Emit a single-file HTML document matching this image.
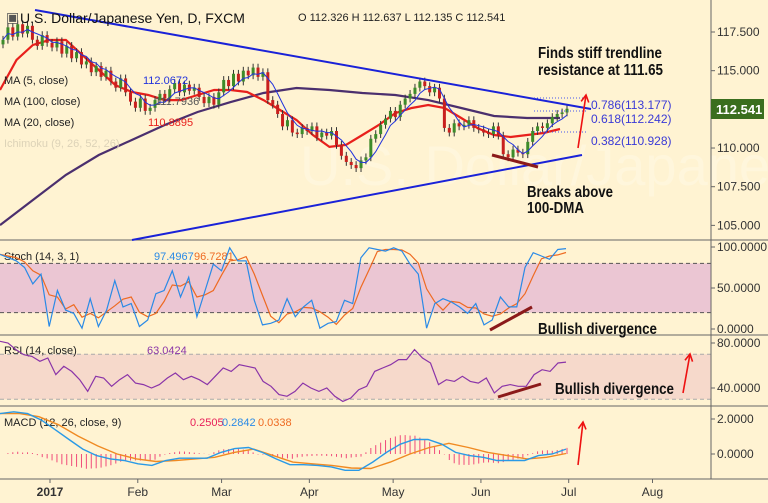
<!DOCTYPE html>
<html><head><meta charset="utf-8"><style>
body{margin:0;background:#fff3d2;}
svg{display:block;font-family:"Liberation Sans",sans-serif;}
</style></head><body>
<svg id="c" width="768" height="503" viewBox="0 0 768 503">
<rect x="0" y="0" width="768" height="503" fill="#fff3d2"/>
</svg>
<script>
const closes=[117.0,117.8,117.2,118.0,117.4,117.9,117.0,116.6,117.3,116.8,
116.5,116.9,116.1,116.6,115.8,116.2,115.4,115.6,114.9,115.3,114.6,115.0,
114.3,113.9,114.5,113.6,113.0,112.6,113.2,112.4,112.6,113.1,113.5,113.2,
113.8,114.2,113.6,114.1,113.7,113.9,113.3,112.9,113.3,112.8,113.6,114.4,
114.0,114.8,114.3,115.0,114.7,115.2,114.6,114.9,113.1,112.8,112.2,111.4,
111.8,111.0,110.9,111.3,111.1,111.4,110.7,111.0,110.8,111.1,110.2,109.5,
109.1,108.9,108.7,109.2,109.4,110.6,110.9,111.5,111.9,112.4,112.0,112.8,
113.2,113.5,113.9,114.3,114.0,113.6,113.9,113.2,111.3,111.0,111.6,111.4,
111.5,111.8,111.3,111.2,111.0,110.9,111.4,110.8,109.6,109.4,109.9,109.7,
109.6,110.4,111.1,111.4,111.3,111.6,112.0,112.2,112.3,112.54];
const ma20=[113.75,115.69,116.66,116.98,116.98,116.01,115.04,114.07,113.62,113.43,113.1,113.1,113.43,113.75,113.75,113.62,113.1,112.46,111.81,110.84,110.07,110.2,110.84,111.49,112.26,112.59,112.78,112.59,111.94,111.29,110.84,110.71,110.84,110.97,111.23];
const ma100=[105.02,106.64,108.26,109.55,110.52,111.49,112.33,112.97,113.56,113.88,113.75,113.56,113.43,113.1,112.59,112.07,111.94,111.94];
const stochK=[91,87,83,75,55,67,3,47,23,19,1,37,3,23,59,27,31,3,11,43,47,71,39,63,15,47,79,71,99,83,83,35,5,7,11,37,15,27,35,1,7,9,35,31,87,99,97,95,99,95,79,67,1,31,37,33,27,19,31,5,11,39,27,27,75,93,89,85,97,98];
const rsi=[81.5,80,74.1,69.6,68.1,63.7,66.7,51.9,59.3,54.8,47.4,37.0,50.4,48.9,41.5,47.4,51.9,44.4,43.0,40.0,43.0,48.9,53.3,47.4,50.4,47.4,43.0,50.4,57.8,54.8,60.7,59.3,57.8,45.9,41.5,34.1,32.6,37.0,44.4,40.0,37.0,40.0,32.6,28.1,31.1,38.5,41.5,54.8,57.8,60.7,65.2,65.2,74.1,66.7,62.2,43.0,47.4,45.9,50.4,45.9,44.4,48.9,35.6,41.5,43.0,41.5,41.5,51.9,56.3,54.8,62.2,63.0];
const macd=[2.31,2.41,2.31,1.94,1.39,0.83,0.28,-0.09,-0.28,-0.37,-0.56,-0.65,-0.37,-0.24,-0.24,-0.24,0.09,0.31,0.37,0.09,-0.28,-0.61,-0.61,-0.65,-0.74,-0.93,-0.93,-0.46,0.09,0.56,0.83,0.83,0.56,0.09,-0.09,-0.19,-0.37,-0.37,-0.37,-0.09,0,0.28];
const signal=[2.31,2.31,2.13,1.67,1.02,0.46,0,-0.28,-0.43,-0.37,-0.28,-0.19,0.09,0.28,-0.09,-0.46,-0.56,-0.65,-0.80,-0.83,-0.46,0,0.37,0.61,0.37,0.09,-0.09,-0.28,-0.19,0.03];
const months=["2017","Feb","Mar","Apr","May","Jun","Jul","Aug"];
const monthBar=[0,22,43,65,86,108,130,151];
const priceTicks=[117.5,115,110,107.5,105];
const stochTicks=[100,50,0];
const rsiTicks=[80,40];
const macdTicks=[2,0];

const svg=document.getElementById('c');
const NS='http://www.w3.org/2000/svg';
function mk(tag,attrs,parent){const e=document.createElementNS(NS,tag);for(const k in attrs)e.setAttribute(k,attrs[k]);(parent||svg).appendChild(e);return e;}
const X0=3,X1=567;
const xC=i=>X0+i*(X1-X0)/(closes.length-1);
const xSpread=(i,n)=>i*566/(n-1);
const yP=p=>32+(117.5-p)*15.47;
const yS=v=>329-v*0.82;
const yR=v=>343+(80-v)*1.125;
const yM=v=>454-v*17.5;
const xDate=d=>50+d*3.99;
function path(vals,xf,yf){return vals.map((v,i)=>(i?'L':'M')+xf(i,vals.length).toFixed(1)+' '+yf(v).toFixed(1)).join(' ');}

let b=mk('rect',{x:0,y:yS(80),width:711,height:yS(20)-yS(80),fill:'#ebc6d3'});

b=mk('rect',{x:0,y:yR(70),width:711,height:yR(30)-yR(70),fill:'#f6d9cb'});

[[yS(80)],[yS(20)],[yR(70)],[yR(30)]].forEach((a,k)=>{const l=mk('line',{x1:0,x2:711,y1:a[0],y2:a[0],stroke:k<2?'#555':'#aaa','stroke-dasharray':'4,3'});
});

let w=mk('text',{x:300,y:185,'font-size':56,fill:'#fff6dc'});w.textContent='U.S. Dollar/Japanese Yen';


[240,335,406,479].forEach(y=>{const l=mk('line',{x1:0,x2:768,y1:y,y2:y,stroke:'#666'});
});
let ax=mk('line',{x1:711,x2:711,y1:0,y2:479,stroke:'#666'});


function tickLabel(y,t,name){const e=mk('text',{x:717,y:y+4,'font-size':12,fill:'#333'});e.textContent=t;

const tk=mk('line',{x1:711,x2:715,y1:y,y2:y,stroke:'#666'});}
priceTicks.forEach(v=>tickLabel(yP(v),v.toFixed(3),'price-tick-label'));
stochTicks.forEach(v=>tickLabel(yS(v),v.toFixed(4),'stoch-tick-label'));
rsiTicks.forEach(v=>tickLabel(yR(v),v.toFixed(4),'rsi-tick-label'));
macdTicks.forEach(v=>tickLabel(yM(v),v.toFixed(4),'macd-tick-label'));
months.forEach((m,i)=>{const x=xDate(monthBar[i]);
const t=mk('text',{x:x,y:496,'font-size':12,fill:'#333','text-anchor':'middle','font-weight':i==0?'bold':'normal'});t.textContent=m;

const tk=mk('line',{x1:x,x2:x,y1:479,y2:483,stroke:'#666'});});

let l=mk('path',{d:ma100.map((v,i)=>(i?'L':'M')+(i*560/(ma100.length-1)).toFixed(1)+' '+yP(v).toFixed(1)).join(' '),fill:'none',stroke:'#4b2f6e','stroke-width':2.2});

l=mk('path',{d:ma20.map((v,i)=>(i?'L':'M')+(i*560/(ma20.length-1)).toFixed(1)+' '+yP(v).toFixed(1)).join(' '),fill:'none',stroke:'#e8201c','stroke-width':2.2});


closes.forEach((c,i)=>{const o=i?closes[i-1]:c-0.3;const up=c>=o;const x=xC(i);
const hi=Math.max(o,c)+0.25,lo=Math.min(o,c)-0.25;
const wk=mk('line',{x1:x,x2:x,y1:yP(hi),y2:yP(lo),stroke:'#333','stroke-width':1});

const r=mk('rect',{x:x-1.5,y:yP(Math.max(o,c)),width:3,height:Math.max(1,Math.abs(yP(o)-yP(c))),fill:up?'#3d8b2a':'#c8201e'});
});
const ma5=closes.map((c,i)=>{const s=closes.slice(Math.max(0,i-4),i+1);return s.reduce((a,b)=>a+b,0)/s.length;});
l=mk('path',{d:ma5.map((v,i)=>(i?'L':'M')+xC(i).toFixed(1)+' '+yP(v).toFixed(1)).join(' '),fill:'none',stroke:'#2233dd','stroke-width':1});


l=mk('line',{x1:35,y1:10,x2:591,y2:109,stroke:'#1a22d8','stroke-width':2});

l=mk('line',{x1:132,y1:240,x2:582,y2:155,stroke:'#1a22d8','stroke-width':2});

[[98,'0.786(113.177)',109],[111,'0.618(112.242)',123],[132,'0.382(110.928)',145]].forEach(f=>{
const d=mk('line',{x1:534,x2:588,y1:f[0],y2:f[0],stroke:'#4455ee','stroke-dasharray':'1,2'});

const t=mk('text',{x:591,y:f[2],'font-size':12,fill:'#3a3ad6'});t.textContent=f[1];
});
l=mk('line',{x1:492,y1:155,x2:538,y2:167,stroke:'#8b1a1a','stroke-width':3});

function arrow(x1,y1,x2,y2,name){const g=mk('g',{stroke:'#ee1111','stroke-width':1.6,fill:'none'});

mk('line',{x1,y1,x2,y2},g);const a=Math.atan2(y2-y1,x2-x1);
mk('path',{d:`M${x2-8*Math.cos(a-0.5)} ${y2-8*Math.sin(a-0.5)} L${x2} ${y2} L${x2-8*Math.cos(a+0.5)} ${y2-8*Math.sin(a+0.5)}`},g);}
arrow(578,148,586,95,'price-arrow');arrow(683,393,690,354,'rsi-arrow');arrow(578,465,583,422,'macd-arrow');

function txt(x,y,s,t,attrs,name){const e=mk('text',Object.assign({x,y,'font-size':s},attrs||{}));e.textContent=t;
return e;}
function ctxt(x,y,t,len,name){return txt(x,y,16,t,{'font-weight':'bold',fill:'#111',textLength:len,lengthAdjust:'spacingAndGlyphs'},name);}
ctxt(538,58,'Finds stiff trendline',124,'annotation-resistance');
ctxt(538,75,'resistance at 111.65',125,'annotation-resistance-2');
ctxt(527,197,'Breaks above',86,'annotation-breaks');
ctxt(527,213,'100-DMA',57,'annotation-dma');
ctxt(538,334,'Bullish divergence',119,'stoch-divergence-label');
ctxt(555,394,'Bullish divergence',119,'rsi-divergence-label');

let pb=mk('rect',{x:711,y:99,width:53,height:20,fill:'#3a6e1e'});
txt(716,114,13,'112.541',{fill:'#fff','font-weight':'bold'},'last-price-label');

txt(6,22,14,'\u25A3',{fill:'#555'},'symbol-icon');
txt(20,23,14,'U.S. Dollar/Japanese Yen, D, FXCM',{fill:'#111'},'chart-title');
txt(298,21,11,'O 112.326  H 112.637  L 112.135  C 112.541',{fill:'#222'},'ohlc-legend');
txt(4,84,11,'MA (5, close)',{fill:'#222'},'ma5-legend');
txt(143,84,11,'112.0672',{fill:'#2233dd'},'ma5-value');
txt(4,105,11,'MA (100, close)',{fill:'#222'},'ma100-legend');
txt(155,105,11,'111.7936',{fill:'#555'},'ma100-value');
txt(4,126,11,'MA (20, close)',{fill:'#222'},'ma20-legend');
txt(148,126,11,'110.8895',{fill:'#e8201c'},'ma20-value');
txt(4,147,11,'Ichimoku (9, 26, 52, 26)',{fill:'#ddd3b8'},'ichimoku-legend');
txt(4,260,11,'Stoch (14, 3, 1)',{fill:'#222'},'stoch-legend');
txt(154,260,11,'97.4967',{fill:'#2a8ae6'},'stoch-k-value');
txt(194,260,11,'96.7281',{fill:'#ee6a22'},'stoch-d-value');
txt(4,354,11,'RSI (14, close)',{fill:'#222'},'rsi-legend');
txt(147,354,11,'63.0424',{fill:'#8a34a8'},'rsi-value');
txt(4,426,11,'MACD (12, 26, close, 9)',{fill:'#222'},'macd-legend');
txt(190,426,11,'0.2505',{fill:'#e8205a'},'macd-hist-value');
txt(222,426,11,'0.2842',{fill:'#2a8ae6'},'macd-value');
txt(258,426,11,'0.0338',{fill:'#ee6a22'},'signal-value');

const stochD=stochK.map((v,i)=>{const s=stochK.slice(Math.max(0,i-2),i+1);return s.reduce((a,b)=>a+b,0)/s.length;});
l=mk('path',{d:path(stochD,xSpread,yS),fill:'none',stroke:'#ee6a22','stroke-width':1.2});

l=mk('path',{d:path(stochK,xSpread,yS),fill:'none',stroke:'#2a8ae6','stroke-width':1.2});

l=mk('line',{x1:490,y1:330,x2:532,y2:307,stroke:'#8b1a1a','stroke-width':3});


l=mk('path',{d:path(rsi,xSpread,yR),fill:'none',stroke:'#8a34a8','stroke-width':1.2});

l=mk('line',{x1:498,y1:397,x2:541,y2:384,stroke:'#8b1a1a','stroke-width':3});


function interp(arr,t){const p=t*(arr.length-1);const i=Math.min(arr.length-2,Math.floor(p));const f=p-i;return arr[i]*(1-f)+arr[i+1]*f;}
closes.forEach((c,i)=>{const t=i/(closes.length-1);const h=(interp(macd,t)-interp(signal,t))*1.4;
const x=xC(i);const r=mk('line',{x1:x,x2:x,y1:yM(0),y2:yM(h),stroke:'#f04a7a','stroke-width':1});
});
l=mk('path',{d:path(signal,xSpread,yM),fill:'none',stroke:'#f08a22','stroke-width':1.4});

l=mk('path',{d:path(macd,xSpread,yM),fill:'none',stroke:'#2a9ae6','stroke-width':1.4});

</script>
</body></html>
